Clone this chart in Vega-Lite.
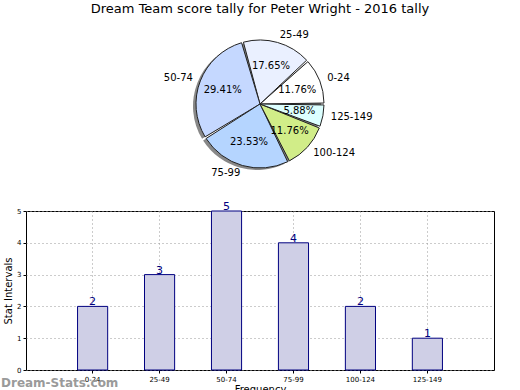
{
  "$schema": "https://vega.github.io/schema/vega-lite/v6.json",
  "padding": {"left": 0, "top": 3, "right": 5, "bottom": 0},
  "config": {"font": "DejaVu Sans", "axis": {"labelColor": "black", "titleColor": "black", "titleFontWeight": "normal"}},
  "datasets": {
    "t": [
      {"cat": "0-24", "count": 2, "pct": "11.76%"},
      {"cat": "25-49", "count": 3, "pct": "17.65%"},
      {"cat": "50-74", "count": 5, "pct": "29.41%"},
      {"cat": "75-99", "count": 4, "pct": "23.53%"},
      {"cat": "100-124", "count": 2, "pct": "11.76%"},
      {"cat": "125-149", "count": 1, "pct": "5.88%"}
    ]
  },
  "spacing": 11,
  "vconcat": [
    {
      "width": 468,
      "height": 170,
      "title": {"text": "Dream Team score tally for Peter Wright - 2016 tally", "fontSize": 13, "fontWeight": "normal", "offset": 3, "anchor": "middle"},
      "view": {"stroke": null},
      "data": {"name": "t"},
      "transform": [{"window": [{"op": "row_number", "as": "rn"}]}],
      "encoding": {
        "theta": {"field": "count", "type": "quantitative", "stack": true, "scale": {"range": [1.5708, 7.854]}},
        "order": {"field": "rn", "type": "quantitative", "sort": "descending"},
        "detail": {"field": "cat", "type": "nominal"}
      },
      "layer": [
        {"mark": {"type": "arc", "outerRadius": 64, "fill": "#888", "xOffset": -3, "yOffset": 2, "padAngle": 0.03}},
        {
          "mark": {"type": "arc", "outerRadius": 64, "stroke": "#222", "strokeWidth": 1, "padAngle": 0.03},
          "encoding": {
            "color": {
              "field": "cat", "type": "nominal", "legend": null,
              "scale": {
                "domain": ["0-24", "25-49", "50-74", "75-99", "100-124", "125-149"],
                "range": ["#ffffff", "#eaf0ff", "#c5d8ff", "#b5d5ff", "#d1ed88", "#dcffff"]
              }
            }
          }
        },
        {"mark": {"type": "text", "radius": 40, "fontSize": 10, "color": "black"}, "encoding": {"text": {"field": "pct"}}},
        {
          "mark": {
            "type": "text", "radius": 72, "fontSize": 10, "color": "black",
            "align": {"expr": "cos(PI*(datum.count_start+datum.count_end)/17) > 0 ? 'left' : 'right'"}
          },
          "encoding": {"text": {"field": "cat"}}
        }
      ]
    },
    {
      "width": 468,
      "height": 159,
      "view": {"stroke": "black", "strokeWidth": 1},
      "data": {"name": "t"},
      "title": {"text": "Dream-Stats.com", "orient": "bottom", "anchor": "start", "frame": "group", "dx": -25, "offset": -16, "color": "#9a9a9a", "fontSize": 12, "fontWeight": "bold"},
      "encoding": {
        "x": {
          "field": "cat", "type": "nominal", "sort": null,
          "scale": {"paddingInner": 0.55, "paddingOuter": 0.77},
          "axis": {"title": "Frequency", "titleFontSize": 10, "titlePadding": 2, "labelAngle": 0, "labelFontSize": 7, "labelPadding": 2, "grid": true, "gridDash": [1, 3], "gridColor": "#999", "gridOpacity": 1, "bandPosition": 0.5, "domain": false, "ticks": true, "tickSize": 3, "tickColor": "black", "tickBand": "center"}
        },
        "y": {
          "field": "count", "type": "quantitative",
          "scale": {"domain": [0, 5], "nice": false},
          "axis": {"values": [0, 1, 2, 3, 4, 5], "title": "Stat Intervals", "titleFontSize": 10, "titlePadding": 3, "labelFontSize": 7, "labelPadding": 2, "grid": true, "gridDash": [1, 3], "gridColor": "#999", "gridOpacity": 1, "domain": false, "tickSize": 3, "tickColor": "black"}
        }
      },
      "layer": [
        {"mark": {"type": "bar", "fill": "#cfcfe6", "stroke": "#000080", "strokeWidth": 1}},
        {"mark": {"type": "text", "baseline": "bottom", "dy": 1, "color": "#000080", "fontSize": 11}, "encoding": {"text": {"field": "count", "type": "quantitative"}}}
      ]
    }
  ]
}
